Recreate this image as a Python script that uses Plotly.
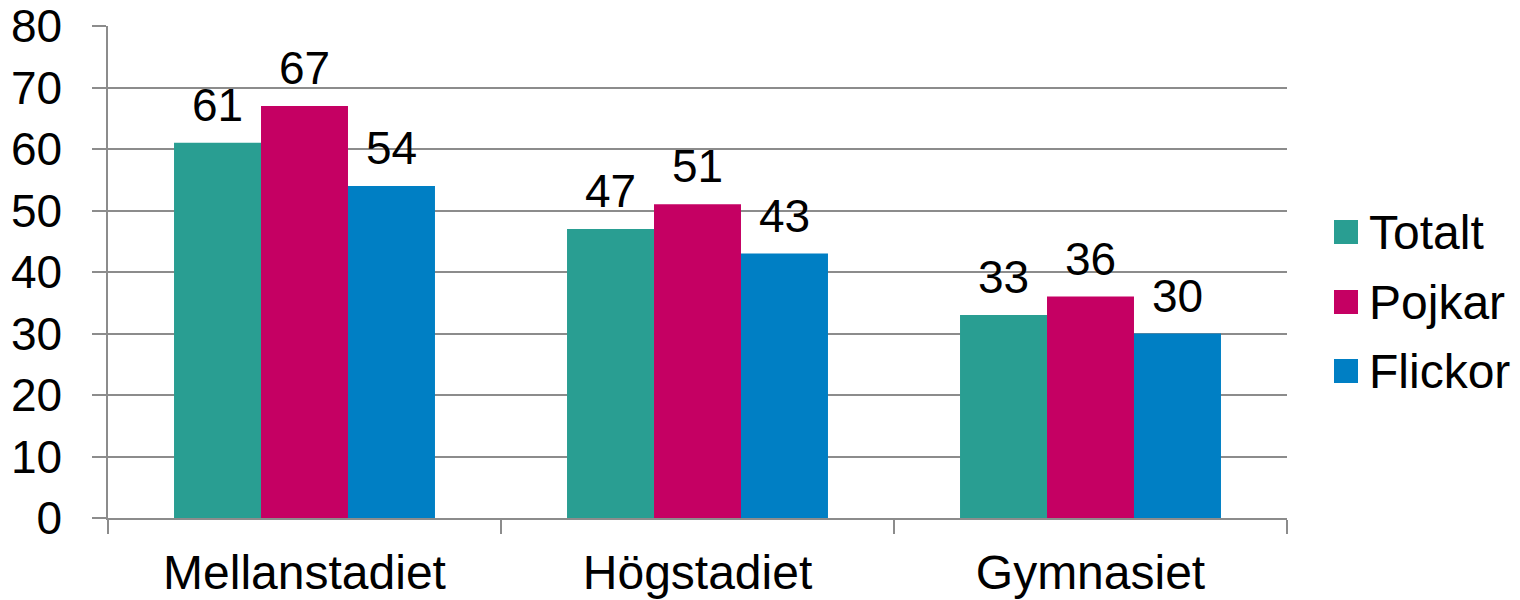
import plotly.graph_objects as go

categories = ["Mellanstadiet", "Högstadiet", "Gymnasiet"]
series_names = ["Totalt", "Pojkar", "Flickor"]
totalt = [61, 47, 33]
pojkar = [67, 51, 36]
flickor = [54, 43, 30]
y_ticks = [0, 10, 20, 30, 40, 50, 60, 70, 80]

colors = ["#299E92", "#C50063", "#007FC4"]
series_values = [totalt, pojkar, flickor]

W, H = 1520, 600
ML, MR, MT, MB = 108, 233, 26, 82
FONT = "Liberation Sans, Arial, sans-serif"
BARGAP = 0.336

fig = go.Figure()
for name, vals, col in zip(series_names, series_values, colors):
    fig.add_trace(go.Bar(
        x=categories, y=vals, name=name, marker_color=col,
        marker_line_width=0, showlegend=False, hoverinfo="x+y+name",
    ))
# data labels, grouped the same way as the bars
for name, vals in zip(series_names, series_values):
    fig.add_trace(go.Scatter(
        x=categories, y=vals, name=name, mode="markers+text",
        text=[str(v) for v in vals], textposition="top center",
        marker=dict(size=15, opacity=0), cliponaxis=False,
        textfont=dict(size=46, color="#000000", family=FONT),
        showlegend=False, hoverinfo="skip",
    ))

# manual legend (large swatches)
pw = W - ML - MR
ph = H - MT - MB
legend_y_px = [232, 302, 371]
sq = 24
sx0 = 1334
for name, col, ypx in zip(series_names, colors, legend_y_px):
    fig.add_shape(type="rect", xref="paper", yref="paper",
                  x0=(sx0 - ML) / pw, x1=(sx0 + sq - ML) / pw,
                  y0=(H - MB - ypx - sq / 2) / ph, y1=(H - MB - ypx + sq / 2) / ph,
                  fillcolor=col, line_width=0)
    fig.add_annotation(xref="paper", yref="paper", x=(1367 - ML) / pw,
                       y=(H - MB - ypx) / ph, text=name, showarrow=False,
                       xanchor="left", yanchor="middle",
                       font=dict(size=48, color="#000000", family=FONT))

fig.update_layout(
    width=W, height=H,
    margin=dict(l=ML, r=MR, t=MT, b=MB, pad=0, autoexpand=False),
    plot_bgcolor="white", paper_bgcolor="white",
    barmode="group", bargap=BARGAP, bargroupgap=0,
    scattermode="group", scattergap=BARGAP,
    font=dict(family=FONT, size=46, color="#000000"),
    showlegend=False,
)
fig.update_yaxes(range=[0, 80], tickvals=y_ticks, showgrid=True,
                 gridcolor="#8C8C8C", gridwidth=1.5,
                 showline=True, linecolor="#8C8C8C", linewidth=1.5,
                 ticks="outside", ticklen=14, tickcolor="#8C8C8C", tickwidth=1.5,
                 ticklabelstandoff=21, zeroline=False, automargin=False,
                 tickfont=dict(size=46, family=FONT, color="#000000"))
fig.update_xaxes(showline=True, linecolor="#8C8C8C", linewidth=1.5,
                 ticks="outside", ticklen=14, tickcolor="#8C8C8C", tickwidth=1.5,
                 tickson="boundaries", ticklabelstandoff=12, automargin=False,
                 tickfont=dict(size=48, family=FONT, color="#000000"))

fig.write_html("out.html")
